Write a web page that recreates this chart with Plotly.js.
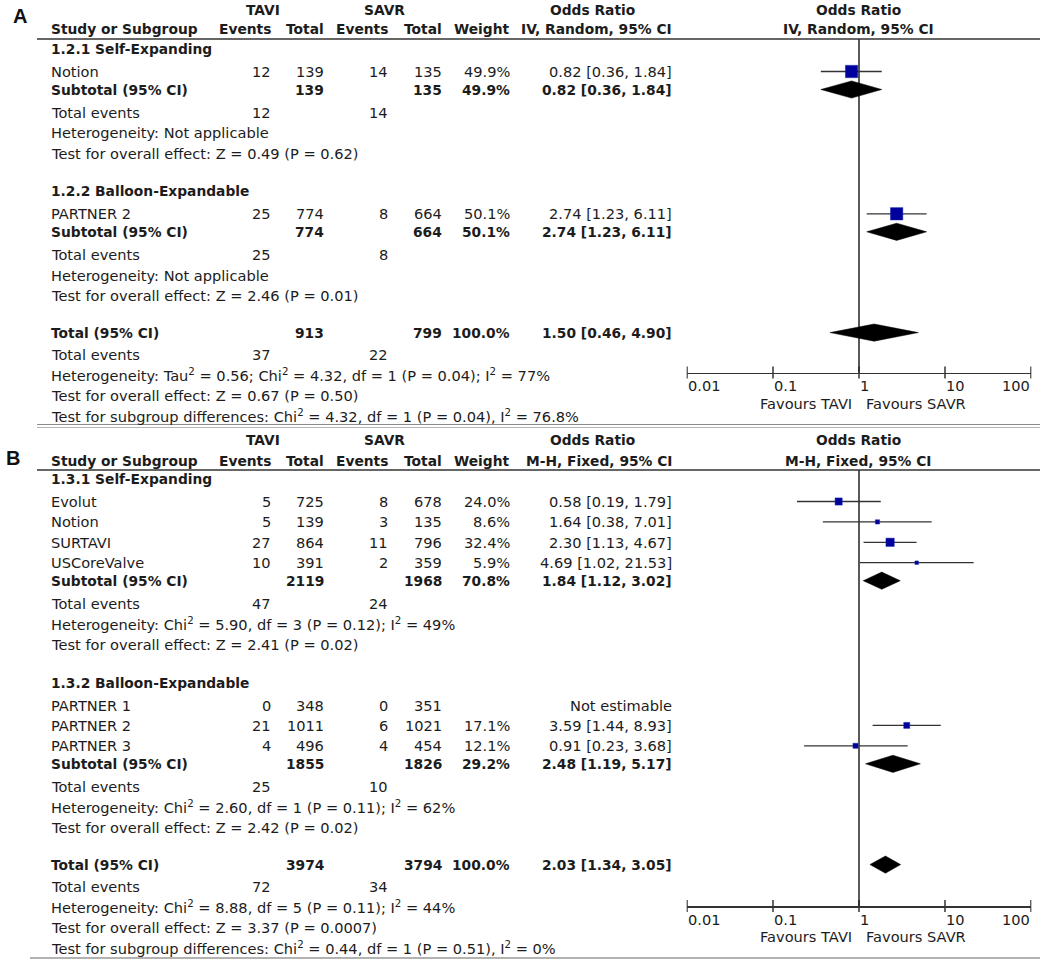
<!DOCTYPE html>
<html><head><meta charset="utf-8">
<script src="https://cdn.plot.ly/plotly-3.0.1.min.js"></script>
<style>html,body{margin:0;padding:0;background:#fff}#chart{width:1040px;height:961px}</style>
</head><body><div id="chart"></div>
<script>
// ---------------- DATA: Panel A (IV, Random) ----------------
const A_groupNames = ['1.2.1 Self-Expanding', '1.2.2 Balloon-Expandable'];
const A_studyNames = [['Notion'], ['PARTNER 2']];
const A_taviEvents = [[12], [25]];
const A_taviTotal  = [[139], [774]];
const A_savrEvents = [[14], [8]];
const A_savrTotal  = [[135], [664]];
const A_weight     = [[49.9], [50.1]];
const A_or         = [[0.82], [2.74]];
const A_lo         = [[0.36], [1.23]];
const A_hi         = [[1.84], [6.11]];
const A_subTavi    = [139, 774];
const A_subSavr    = [135, 664];
const A_subWeight  = [49.9, 50.1];
const A_subOr      = [0.82, 2.74];
const A_subLo      = [0.36, 1.23];
const A_subHi      = [1.84, 6.11];
const A_subEvTavi  = [12, 25];
const A_subEvSavr  = [14, 8];
const A_subHet     = ['Heterogeneity: Not applicable', 'Heterogeneity: Not applicable'];
const A_subTest    = ['Test for overall effect: Z = 0.49 (P = 0.62)', 'Test for overall effect: Z = 2.46 (P = 0.01)'];
const A_total      = {tavi: 913, savr: 799, weight: 100.0, or: 1.50, lo: 0.46, hi: 4.90, evTavi: 37, evSavr: 22};
const A_totHet     = 'Heterogeneity: Tau<sup>2</sup> = 0.56; Chi<sup>2</sup> = 4.32, df = 1 (P = 0.04); I<sup>2</sup> = 77%';
const A_totTest    = 'Test for overall effect: Z = 0.67 (P = 0.50)';
const A_subDiff    = 'Test for subgroup differences: Chi<sup>2</sup> = 4.32, df = 1 (P = 0.04), I<sup>2</sup> = 76.8%';
const A_method     = 'IV, Random, 95% CI';

// ---------------- DATA: Panel B (M-H, Fixed) ----------------
const B_groupNames = ['1.3.1 Self-Expanding', '1.3.2 Balloon-Expandable'];
const B_studyNames = [['Evolut', 'Notion', 'SURTAVI', 'USCoreValve'], ['PARTNER 1', 'PARTNER 2', 'PARTNER 3']];
const B_taviEvents = [[5, 5, 27, 10], [0, 21, 4]];
const B_taviTotal  = [[725, 139, 864, 391], [348, 1011, 496]];
const B_savrEvents = [[8, 3, 11, 2], [0, 6, 4]];
const B_savrTotal  = [[678, 135, 796, 359], [351, 1021, 454]];
const B_weight     = [[24.0, 8.6, 32.4, 5.9], [null, 17.1, 12.1]];
const B_or         = [[0.58, 1.64, 2.30, 4.69], [null, 3.59, 0.91]];
const B_lo         = [[0.19, 0.38, 1.13, 1.02], [null, 1.44, 0.23]];
const B_hi         = [[1.79, 7.01, 4.67, 21.53], [null, 8.93, 3.68]];
const B_subTavi    = [2119, 1855];
const B_subSavr    = [1968, 1826];
const B_subWeight  = [70.8, 29.2];
const B_subOr      = [1.84, 2.48];
const B_subLo      = [1.12, 1.19];
const B_subHi      = [3.02, 5.17];
const B_subEvTavi  = [47, 25];
const B_subEvSavr  = [24, 10];
const B_subHet     = ['Heterogeneity: Chi<sup>2</sup> = 5.90, df = 3 (P = 0.12); I<sup>2</sup> = 49%',
                      'Heterogeneity: Chi<sup>2</sup> = 2.60, df = 1 (P = 0.11); I<sup>2</sup> = 62%'];
const B_subTest    = ['Test for overall effect: Z = 2.41 (P = 0.02)', 'Test for overall effect: Z = 2.42 (P = 0.02)'];
const B_total      = {tavi: 3974, savr: 3794, weight: 100.0, or: 2.03, lo: 1.34, hi: 3.05, evTavi: 72, evSavr: 34};
const B_totHet     = 'Heterogeneity: Chi<sup>2</sup> = 8.88, df = 5 (P = 0.11); I<sup>2</sup> = 44%';
const B_totTest    = 'Test for overall effect: Z = 3.37 (P = 0.0007)';
const B_subDiff    = 'Test for subgroup differences: Chi<sup>2</sup> = 0.44, df = 1 (P = 0.51), I<sup>2</sup> = 0%';
const B_method     = 'M-H, Fixed, 95% CI';

// ---------------- Axis ticks ----------------
const tickVals   = [0.01, 0.1, 1, 10, 100];
const tickLabels = ['0.01', '0.1', '1', '10', '100'];
const favLeft  = 'Favours TAVI';
const favRight = 'Favours SAVR';

// ---------------- Styling / layout constants ----------------
const FONT = 'DejaVu Sans, Verdana, sans-serif';
const TXT = '#1c1c1c';
const FS = 14.6;      // regular text
const FSB = 13.8;     // bold text
const COL = {name: 50, te: 272, tt: 325, se: 389, st: 443, w: 511, or: 673, orHead: 592, taviHead: 263, savrHead: 384, plotHead: 858};
const STEP = {ghToRow: 22.5, row: 20.4, rowToSub: 18, subToEv: 23, line: 20.4, testToGh: 38, testToTotal: 37, totToEv: 22};
const DIAM_H = 8.6;
const TICK_HALF = 6;

const ann = [];
const shapes = [];
const traces = [];

function txt(x, y, s, anchor, bold, size, color, fam, xref) {
  ann.push({xref: xref || 'x', yref: 'y', x: x, y: y, text: bold ? '<b>' + s + '</b>' : s, showarrow: false,
    xanchor: anchor, yanchor: 'middle', borderpad: 0,
    font: {family: fam || FONT, size: size || (bold ? FSB : FS), color: color || TXT}});
}
function hline(y, x0, x1, color, w) {
  shapes.push({type: 'line', xref: 'x', yref: 'y', x0: x0, x1: x1, y0: y, y1: y, line: {color: color, width: w}});
}
const f2 = v => v.toFixed(2);
const orText = (o, l, h) => f2(o) + ' [' + f2(l) + ', ' + f2(h) + ']';
const wText = w => w.toFixed(1) + '%';

function renderPanel(P, L) {
  // header
  txt(L.labelX, L.labelY, L.label, 'center', true, 20, '#111', 'Liberation Sans, Arial, sans-serif');
  txt(COL.taviHead, L.h1, 'TAVI', 'center', true);
  txt(COL.savrHead, L.h1, 'SAVR', 'center', true);
  txt(COL.orHead, L.h1, 'Odds Ratio', 'center', true);
  txt(COL.plotHead, L.h1, 'Odds Ratio', 'center', true);
  txt(COL.name, L.h2, 'Study or Subgroup', 'left', true);
  txt(COL.te, L.h2, 'Events', 'right', true);
  txt(COL.tt, L.h2, 'Total', 'right', true);
  txt(COL.se, L.h2, 'Events', 'right', true);
  txt(COL.st, L.h2, 'Total', 'right', true);
  txt(COL.w, L.h2, 'Weight', 'right', true);
  txt(COL.or, L.h2, P.method, 'right', true);
  txt(COL.plotHead, L.h2, P.method, 'center', true);
  hline(L.lineY, 37, 1040, '#333', 1.5);

  const ci = {x: [], y: []}, sq = {x: [], y: [], s: []}, dia = [];
  let y = L.firstY;
  const nG = P.groups.length;
  for (let g = 0; g < nG; g++) {
    txt(COL.name, y, P.groups[g], 'left', true);
    y += STEP.ghToRow;
    for (let i = 0; i < P.studies[g].length; i++) {
      if (i > 0) y += STEP.row;
      txt(COL.name, y, P.studies[g][i], 'left', false);
      txt(COL.te, y, String(P.te[g][i]), 'right', false);
      txt(COL.tt, y, String(P.tt[g][i]), 'right', false);
      txt(COL.se, y, String(P.se[g][i]), 'right', false);
      txt(COL.st, y, String(P.st[g][i]), 'right', false);
      if (P.w[g][i] != null) txt(COL.w, y, wText(P.w[g][i]), 'right', false);
      if (P.or[g][i] != null) {
        txt(COL.or, y, orText(P.or[g][i], P.lo[g][i], P.hi[g][i]), 'right', false);
        ci.x.push(P.lo[g][i], P.hi[g][i], null); ci.y.push(y, y, null);
        sq.x.push(P.or[g][i]); sq.y.push(y); sq.s.push(L.sqK * Math.sqrt(P.w[g][i]));
      } else {
        txt(COL.or, y, 'Not estimable', 'right', false);
      }
    }
    y += STEP.rowToSub;
    txt(COL.name, y, 'Subtotal (95% CI)', 'left', true);
    txt(COL.tt, y, String(P.subTavi[g]), 'right', true);
    txt(COL.st, y, String(P.subSavr[g]), 'right', true);
    txt(COL.w, y, wText(P.subW[g]), 'right', true);
    txt(COL.or, y, orText(P.subOr[g], P.subLo[g], P.subHi[g]), 'right', true);
    dia.push({o: P.subOr[g], l: P.subLo[g], h: P.subHi[g], y: y});
    y += STEP.subToEv;
    txt(COL.name, y, 'Total events', 'left', false);
    txt(COL.te, y, String(P.subEvT[g]), 'right', false);
    txt(COL.se, y, String(P.subEvS[g]), 'right', false);
    y += STEP.line;
    txt(COL.name, y, P.subHet[g], 'left', false);
    y += STEP.line;
    txt(COL.name, y, P.subTest[g], 'left', false);
    y += (g < nG - 1) ? STEP.testToGh : STEP.testToTotal;
  }
  const T = P.total;
  txt(COL.name, y, 'Total (95% CI)', 'left', true);
  txt(COL.tt, y, String(T.tavi), 'right', true);
  txt(COL.st, y, String(T.savr), 'right', true);
  txt(COL.w, y, wText(T.weight), 'right', true);
  txt(COL.or, y, orText(T.or, T.lo, T.hi), 'right', true);
  dia.push({o: T.or, l: T.lo, h: T.hi, y: y});
  y += STEP.totToEv;
  txt(COL.name, y, 'Total events', 'left', false);
  txt(COL.te, y, String(T.evTavi), 'right', false);
  txt(COL.se, y, String(T.evSavr), 'right', false);
  y += STEP.line; txt(COL.name, y, P.totHet, 'left', false);
  y += STEP.line; txt(COL.name, y, P.totTest, 'left', false);
  y += STEP.line; txt(COL.name, y, P.subDiff, 'left', false);

  const xa = L.xaxis;
  // axis tick labels (RevMan style: left-aligned at the tick, last one right-aligned)
  const tk = {x: [], y: []};
  tickVals.forEach((v, i) => {
    const last = i === tickVals.length - 1;
    txt(Math.log10(v), L.axisY + 13, tickLabels[i], last ? 'right' : 'left', false, FS, TXT, FONT, xa);
    tk.x.push(v, v, null); tk.y.push(L.axisY - TICK_HALF, L.axisY + TICK_HALF, null);
  });
  // Favours labels
  txt(853, L.favY, favLeft, 'right', false);
  txt(865, L.favY, favRight, 'left', false);

  // two-sided tick marks on the log scale
  traces.push({type: 'scatter', mode: 'lines', x: tk.x, y: tk.y, xaxis: xa, yaxis: 'y',
    line: {color: '#333', width: 1.5}, connectgaps: false, hoverinfo: 'skip'});
  // reference line at OR = 1
  traces.push({type: 'scatter', mode: 'lines', x: [1, 1], y: [L.lineY, L.axisY], xaxis: xa, yaxis: 'y',
    line: {color: '#222', width: 1.5}, hoverinfo: 'skip'});
  // CI whiskers
  traces.push({type: 'scatter', mode: 'lines', x: ci.x, y: ci.y, xaxis: xa, yaxis: 'y',
    line: {color: '#333', width: 1.3}, connectgaps: false, hoverinfo: 'skip'});
  // squares
  traces.push({type: 'scatter', mode: 'markers', x: sq.x, y: sq.y, xaxis: xa, yaxis: 'y',
    marker: {symbol: 'square', size: sq.s, color: '#00009c', opacity: 1, line: {color: '#1a2bb5', width: 0.5}}, hoverinfo: 'skip'});
  // diamonds
  dia.forEach(d => {
    traces.push({type: 'scatter', mode: 'lines', x: [d.l, d.o, d.h, d.o, d.l], y: [d.y, d.y - DIAM_H, d.y, d.y + DIAM_H, d.y],
      xaxis: xa, yaxis: 'y', fill: 'toself', fillcolor: '#000', line: {color: '#000', width: 0.5}, hoverinfo: 'skip'});
  });
}

const PA = {groups: A_groupNames, studies: A_studyNames, te: A_taviEvents, tt: A_taviTotal, se: A_savrEvents, st: A_savrTotal,
  w: A_weight, or: A_or, lo: A_lo, hi: A_hi, subTavi: A_subTavi, subSavr: A_subSavr, subW: A_subWeight, subOr: A_subOr,
  subLo: A_subLo, subHi: A_subHi, subEvT: A_subEvTavi, subEvS: A_subEvSavr, subHet: A_subHet, subTest: A_subTest,
  total: A_total, totHet: A_totHet, totTest: A_totTest, subDiff: A_subDiff, method: A_method};
const PB = {groups: B_groupNames, studies: B_studyNames, te: B_taviEvents, tt: B_taviTotal, se: B_savrEvents, st: B_savrTotal,
  w: B_weight, or: B_or, lo: B_lo, hi: B_hi, subTavi: B_subTavi, subSavr: B_subSavr, subW: B_subWeight, subOr: B_subOr,
  subLo: B_subLo, subHi: B_subHi, subEvT: B_subEvTavi, subEvS: B_subEvSavr, subHet: B_subHet, subTest: B_subTest,
  total: B_total, totHet: B_totHet, totTest: B_totTest, subDiff: B_subDiff, method: B_method};

const LA = {label: 'A', labelX: 20, labelY: 16, h1: 10, h2: 29, lineY: 39, firstY: 49, axisY: 372.5, favY: 403, xaxis: 'x2', sqK: 1.75};
const LB = {label: 'B', labelX: 13, labelY: 458, h1: 440, h2: 461, lineY: 470, firstY: 479, axisY: 906, favY: 936, xaxis: 'x3', sqK: 1.46};

renderPanel(PA, LA);
renderPanel(PB, LB);

// panel separators
hline(424.5, 37, 1040, '#8a8a8a', 1);
hline(427.5, 37, 1040, '#b5b5b5', 1);
hline(958, 30, 1040, '#999', 1.5);

// base pixel subplot
traces.push({type: 'scatter', mode: 'markers', x: [0], y: [-50], xaxis: 'x', yaxis: 'y', marker: {opacity: 0}, hoverinfo: 'skip'});

const H = 961, W = 1040;
// 0.01 sits at x=687 and 100 at x=1031 (86 px per decade)
const PADDEC = 0.005, PXDEC = (1031 - 687) / 4;
const DOM = [(687 - PADDEC * PXDEC) / W, (1031 + PADDEC * PXDEC) / W];
function logAxis(axisY) {
  return {type: 'log', range: [-2 - PADDEC, 2 + PADDEC], domain: DOM, anchor: 'free', position: 1 - axisY / H,
    showgrid: false, zeroline: false, fixedrange: true, ticks: '', showticklabels: false,
    showline: true, linecolor: '#333', linewidth: 1.5};
}

const layout = {
  width: W, height: H, margin: {l: 0, r: 0, t: 0, b: 0, pad: 0},
  paper_bgcolor: '#fff', plot_bgcolor: 'rgba(0,0,0,0)', showlegend: false, hovermode: false,
  xaxis: {range: [0, W], domain: [0, 1], visible: false, fixedrange: true},
  yaxis: {range: [H, 0], domain: [0, 1], visible: false, fixedrange: true},
  xaxis2: logAxis(LA.axisY),
  xaxis3: logAxis(LB.axisY),
  annotations: ann, shapes: shapes
};

Plotly.newPlot('chart', traces, layout, {staticPlot: true, displayModeBar: false});
</script></body></html>
